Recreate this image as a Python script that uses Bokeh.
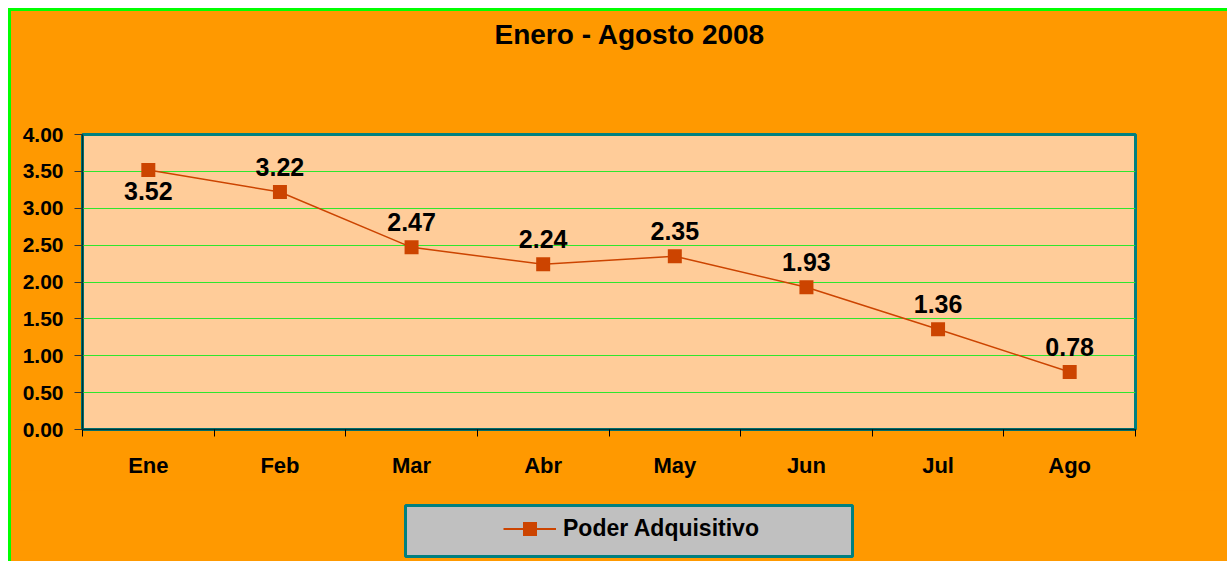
from bokeh.plotting import figure
from bokeh.layouts import column
from bokeh.models import (FixedTicker, NumeralTickFormatter, Range1d, Legend,
                          LegendItem, LinearAxis, Title)
from bokeh.core.properties import value
from bokeh.embed import file_html
from bokeh.resources import INLINE

# ---- data ----
months = ["Ene", "Feb", "Mar", "Abr", "May", "Jun", "Jul", "Ago"]
poder = [3.52, 3.22, 2.47, 2.24, 2.35, 1.93, 1.36, 0.78]
y_ticks = [0.0, 0.5, 1.0, 1.5, 2.0, 2.5, 3.0, 3.5, 4.0]
series_name = "Poder Adquisitivo"
title_text = "Enero - Agosto 2008"

idx = list(range(len(months)))
xc = [i + 0.5 for i in idx]
labels = [f"{v:.2f}" for v in poder]

FONT = "Liberation Sans"
ORANGE = "#FF9900"
PEACH = "#FFCC99"
TEAL = "#008080"
RUST = "#CC4400"
GREEN = "#2EE62E"
GRAY = "#C0C0C0"

# ---- main chart ----
p = figure(output_backend="svg", toolbar_location=None, title=None,
           frame_width=1053, frame_height=295,
           min_border_left=71, min_border_right=92,
           min_border_top=123, min_border_bottom=61,
           x_range=Range1d(0, len(months)), y_range=Range1d(0, 4))
p.frame_align = False

p.border_fill_color = ORANGE
p.background_fill_color = PEACH
p.outline_line_color = TEAL
p.outline_line_width = 3

# empty spacer panel next to the frame (one invisible tick, empty label),
# then the title above it
spacer = LinearAxis(ticker=FixedTicker(ticks=[xc[0]]), major_tick_out=80,
                    major_tick_in=0, major_label_standoff=0,
                    major_label_overrides={xc[0]: ""},
                    axis_line_color=None, major_tick_line_color=None,
                    minor_tick_line_color=None,
                    major_label_text_font_size="1px",
                    major_label_text_alpha=0)
p.add_layout(spacer, "above")
p.add_layout(Title(text=title_text, align="left", offset=412,
                   text_font=FONT, text_font_size="28px",
                   text_font_style="bold", text_color="black",
                   standoff=10), "above")

p.xgrid.visible = False
p.ygrid.ticker = FixedTicker(ticks=y_ticks)
p.ygrid.grid_line_color = GREEN
p.ygrid.grid_line_width = 1.2

p.yaxis.ticker = FixedTicker(ticks=y_ticks)
p.yaxis.formatter = NumeralTickFormatter(format="0.00")
p.yaxis.major_label_text_font = FONT
p.yaxis.major_label_text_font_size = "21px"
p.yaxis.major_label_text_font_style = "bold"
p.yaxis.major_label_text_color = "black"
p.yaxis.major_tick_out = 8
p.yaxis.major_tick_in = 0
p.yaxis.major_tick_line_color = "#333333"
p.yaxis.minor_tick_line_color = None
p.yaxis.axis_line_color = "#003333"
p.yaxis.axis_line_width = 1.5
p.yaxis.major_label_standoff = 11

xax = p.below[0]
xax.ticker = FixedTicker(ticks=xc, minor_ticks=idx + [len(months)])
xax.major_label_overrides = {x: m for x, m in zip(xc, months)}
xax.major_tick_out = 0
xax.major_tick_in = 0
xax.minor_tick_out = 7
xax.minor_tick_in = 0
xax.minor_tick_line_color = "black"
xax.axis_line_color = "#003333"
xax.axis_line_width = 1.5
xax.major_label_text_font = FONT
xax.major_label_text_font_size = "22px"
xax.major_label_text_font_style = "bold"
xax.major_label_text_color = "black"
xax.major_label_standoff = 16

p.line(xc, poder, line_color=RUST, line_width=1.5)
p.scatter(xc, poder, marker="square", size=14, fill_color=RUST, line_color=None)

p.text(xc[:1], poder[:1], text=labels[:1], y_offset=21,
       text_align="center", text_baseline="middle",
       text_font=value(FONT), text_font_size="25px", text_font_style="bold",
       text_color="black")
p.text(xc[1:], poder[1:], text=labels[1:], y_offset=-25,
       text_align="center", text_baseline="middle",
       text_font=value(FONT), text_font_size="25px", text_font_style="bold",
       text_color="black")

# ---- legend strip (its frame is the grey legend box) ----
lg = figure(output_backend="svg", toolbar_location=None, title=None,
            frame_width=447, frame_height=51,
            min_border_left=394, min_border_right=375,
            min_border_top=15, min_border_bottom=5,
            x_range=Range1d(0, len(months)), y_range=Range1d(10, 11),
            x_axis_type=None, y_axis_type=None)
lg.frame_align = False
lg.border_fill_color = ORANGE
lg.background_fill_color = GRAY
lg.outline_line_color = TEAL
lg.outline_line_width = 3
lg.grid.visible = False

# same series, out of this strip's visible range: only its legend sample shows
l_ln = lg.line(xc, poder, line_color=RUST, line_width=1.8)
l_sc = lg.scatter(xc, poder, marker="square", size=14, fill_color=RUST, line_color=None)

legend = Legend(items=[LegendItem(label=series_name, renderers=[l_ln, l_sc])],
                location=(98, 10), orientation="horizontal",
                background_fill_alpha=0, border_line_alpha=0,
                padding=0, margin=0, glyph_width=53, glyph_height=35,
                label_standoff=7, label_text_font=FONT,
                label_text_font_size="23px", label_text_font_style="bold",
                label_text_color="black")
lg.add_layout(legend, "center")

layout = column(p, lg, spacing=0,
                styles={"margin-left": "8px", "margin-top": "8px",
                        "border-left": "3px solid #00FF00",
                        "border-top": "3px solid #00FF00",
                        "background-color": ORANGE})

open("out.html", "w").write(file_html(layout, INLINE))
